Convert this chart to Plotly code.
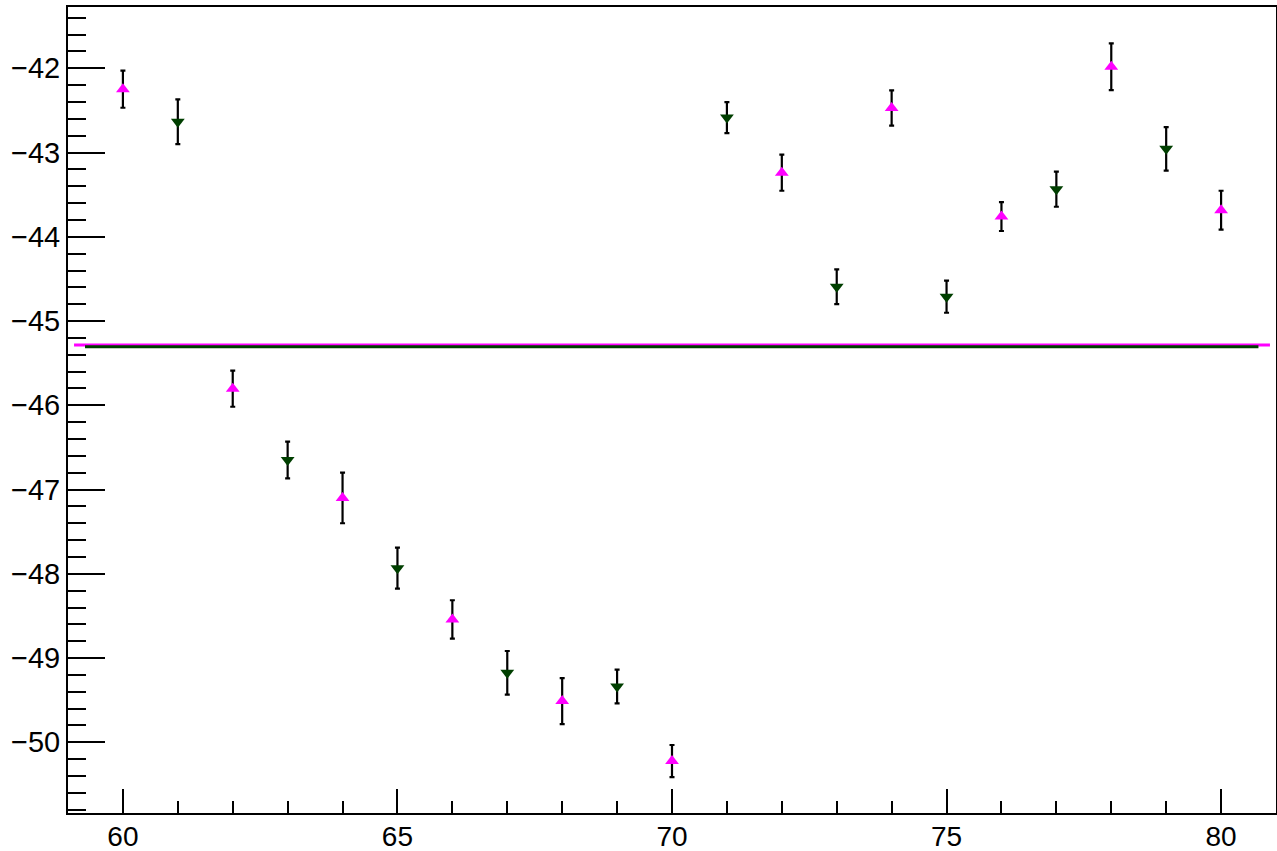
import plotly.graph_objects as go

# Data
x_up = [60, 62, 64, 66, 68, 70, 72, 74, 76, 78, 80]
y_up = [-42.248, -45.803, -47.100, -48.542, -49.510, -50.222, -43.239, -42.471, -43.759, -41.981, -43.684]
e_up = [0.22, 0.214, 0.30, 0.228, 0.273, 0.19, 0.214, 0.21, 0.172, 0.277, 0.231]

x_dn = [61, 63, 65, 67, 69, 71, 73, 75, 77, 79]
y_dn = [-42.634, -46.649, -47.933, -49.175, -49.338, -42.584, -44.592, -44.711, -43.435, -42.956]
e_dn = [0.265, 0.218, 0.243, 0.259, 0.2, 0.184, 0.206, 0.19, 0.208, 0.259]

# constant fit lines
fit_up_x = [59.11, 80.89]
fit_up_c = -45.284
fit_dn_x = [59.31, 80.68]
fit_dn_c = -45.305

MAG = "#ff00ff"
GRN = "#003f00"

fig = go.Figure()
fig.add_trace(go.Scatter(x=fit_up_x, y=[fit_up_c] * 2, mode="lines",
                         line=dict(color=MAG, width=3), hoverinfo="skip"))
fig.add_trace(go.Scatter(x=fit_dn_x, y=[fit_dn_c] * 2, mode="lines",
                         line=dict(color=GRN, width=3), hoverinfo="skip"))
fig.add_trace(go.Scatter(
    x=x_up, y=y_up, mode="markers",
    marker=dict(symbol="triangle-up", size=12, color=MAG),
    error_y=dict(type="data", array=e_up, color="black", thickness=2.2, width=2.5),
))
fig.add_trace(go.Scatter(
    x=x_dn, y=y_dn, mode="markers",
    marker=dict(symbol="triangle-down", size=12, color=GRN),
    error_y=dict(type="data", array=e_dn, color="black", thickness=2.2, width=2.5),
))

y_font = dict(family="Liberation Sans, Arial, sans-serif", size=29, color="black")
x_font = dict(family="Liberation Sans, Arial, sans-serif", size=28, color="black")

fig.update_layout(
    width=1277, height=851,
    margin=dict(l=68, r=1, t=7, b=38, autoexpand=False),
    paper_bgcolor="white", plot_bgcolor="white",
    showlegend=False,
    xaxis=dict(
        range=[59.0, 81.0], tickmode="array", tickvals=[60, 65, 70, 75, 80],
        ticktext=["60", "65", "70", "75", "80"],
        ticks="inside", ticklen=24, tickwidth=2, tickcolor="black",
        minor=dict(dtick=1, tick0=0, ticks="inside", ticklen=12, tickwidth=2, tickcolor="black"),
        showline=True, linecolor="black", linewidth=2, mirror=True,
        showgrid=False, zeroline=False, tickfont=x_font, automargin=False,
        ticklabelstandoff=-3,
    ),
    yaxis=dict(
        range=[-50.839, -41.272], tickmode="array",
        tickvals=[-50, -49, -48, -47, -46, -45, -44, -43, -42],
        ticktext=["\u221250", "\u221249", "\u221248", "\u221247", "\u221246",
                  "\u221245", "\u221244", "\u221243", "\u221242"],
        ticks="inside", ticklen=37, tickwidth=2, tickcolor="black",
        minor=dict(dtick=0.2, tick0=0, ticks="inside", ticklen=18, tickwidth=2, tickcolor="black"),
        showline=True, linecolor="black", linewidth=2, mirror=True,
        showgrid=False, zeroline=False, tickfont=y_font, automargin=False,
    ),
)

fig.write_html("out.html", config={"displayModeBar": False},
               post_script="document.body.style.margin='0';")
